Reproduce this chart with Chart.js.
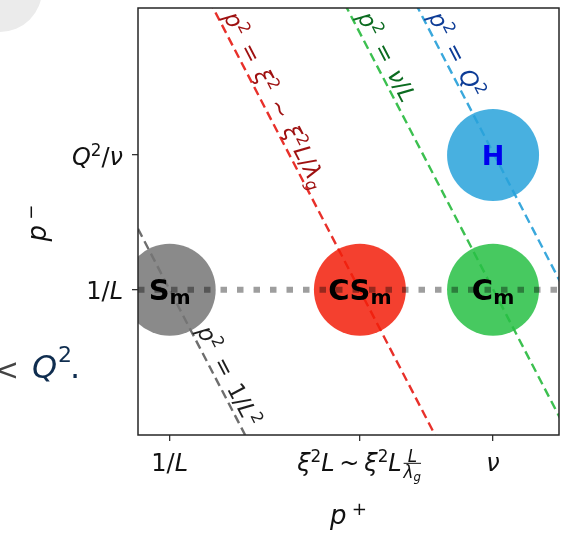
<!DOCTYPE html>
<html>
<head>
<meta charset="utf-8">
<script src="https://cdn.jsdelivr.net/npm/chart.js@4"></script>
<style>
  html, body { margin: 0; padding: 0; background: #fff; }
  canvas { display: block; }
</style>
</head>
<body>
<canvas id="myChart" width="567" height="533"></canvas>
<script>
'use strict';

// log p+ / log p- positions
const xMax = 13.28;
const yMax = 7.0;
const xTickVals = [1.0, 7.0, 11.2];
const xTickLabels = ['1/L', 'ξ^2L ~ ξ^2L\\frac{L}{λ_g}', 'ν'];
const yTickVals = [2.38, 4.59];
const yTickLabels = ['1/L', 'Q^2/ν'];

const pointLabels = ['S_m', 'CS_m', 'C_m', 'H'];
const pointX = [1.0, 7.0, 11.2, 11.2];
const pointY = [2.38, 2.38, 2.38, 4.59];

// lines p^2 = const  ->  log p+ + log p- = const
const lineSums = [3.38, 9.37, 13.59, 15.83];
const lineLabels = ['p^2 = 1/L^2', 'p^2 = ξ^2 ~ ξ^2L/λ_g', 'p^2 = ν/L', 'p^2 = Q^2'];

const pointColors = ['rgba(118,118,118,0.85)', 'rgba(242,30,10,0.85)', 'rgba(39,192,68,0.85)', 'rgba(40,162,219,0.85)'];
const pointTextColors = ['#000', '#000', '#000', '#0000ee'];
const lineColors = ['#6e6e6e', '#e8302a', '#3cc050', '#3aa8dc'];
const lineTextColors = ['#1e1e1e', '#9e1010', '#0b6b20', '#0d3c96'];
const lineLabelStart = [333, 19, 19, 19];

const F = '"DejaVu Sans", sans-serif';

const parseMath = function(str, bold) {
  const segs = [];
  let i = 0;
  while (i < str.length) {
    if (str.startsWith('\\frac{', i)) {
      const a = str.indexOf('}', i);
      const b = str.indexOf('}', a + 2);
      segs.push({ frac: [parseMath(str.slice(i + 6, a), bold), parseMath(str.slice(a + 2, b), bold)] });
      i = b + 1;
      continue;
    }
    let s = null;
    let ch = str[i];
    if (ch === '^' || ch === '_') {
      s = ch === '^' ? 'sup' : 'sub';
      i++;
      ch = str[i];
    }
    segs.push({ t: ch, s: s, i: !bold && /[A-Za-zα-ωΑ-Ω]/.test(ch), b: !!bold, sp: ch === ' ' });
    i++;
  }
  return segs;
};

const segFont = function(seg, size) {
  const sz = seg.s ? size * 0.7 : size;
  return `${seg.i ? 'italic ' : ''}${seg.b ? 'bold ' : ''}${sz}px ${F}`;
};

let spaceEm = 0.45;

const segWidth = function(ctx, seg, size) {
  if (seg.sp) return size * spaceEm;
  ctx.font = segFont(seg, size);
  return ctx.measureText(seg.t).width;
};

const FRAC = 0.7;

const measureRich = function(ctx, segs, size) {
  let w = 0;
  for (const seg of segs) {
    if (seg.frac) {
      const a = measureRich(ctx, seg.frac[0], size * FRAC);
      const b = measureRich(ctx, seg.frac[1], size * FRAC);
      w += Math.max(a, b) + size * 0.15;
    } else {
      w += segWidth(ctx, seg, size);
    }
  }
  return w;
};

const drawRich = function(ctx, segs, x, y, size, align, subDrop) {
  const w = measureRich(ctx, segs, size);
  let cx = align === 'center' ? x - w / 2 : align === 'right' ? x - w : x;
  ctx.textAlign = 'left';
  ctx.textBaseline = 'alphabetic';
  for (const seg of segs) {
    if (seg.frac) {
      const fs = size * FRAC;
      const fw = Math.max(measureRich(ctx, seg.frac[0], fs), measureRich(ctx, seg.frac[1], fs));
      const x0 = cx + size * 0.08;
      const bar = y - size * 0.32;
      drawRich(ctx, seg.frac[0], x0 + fw / 2, bar - size * 0.07, fs, 'center');
      drawRich(ctx, seg.frac[1], x0 + fw / 2, bar + size * 0.08 + fs * 0.75, fs, 'center');
      ctx.fillRect(x0, bar - 0.5, fw, 1);
      cx += fw + size * 0.15;
    } else {
      const sw = segWidth(ctx, seg, size);
      if (!seg.sp) {
        ctx.font = segFont(seg, size);
        const dy = seg.s === 'sup' ? -size * 0.36 : seg.s === 'sub' ? size * (subDrop || 0.2) : 0;
        ctx.fillText(seg.t, cx, y + dy);
      }
      cx += sw;
    }
  }
};

const annotatePlugin = {
  id: 'annotate',
  beforeDraw: function(chart) {
    const ctx = chart.ctx;
    ctx.save();
    // stray bits of the surrounding page
    ctx.fillStyle = '#ebebeb';
    ctx.beginPath();
    ctx.arc(0, -10, 42, 0, Math.PI * 2);
    ctx.fill();
    ctx.fillStyle = '#444';
    ctx.font = `30px ${F}`;
    ctx.textAlign = 'left';
    ctx.fillText('<', -6, 380);
    ctx.fillStyle = '#0f2d4f';
    ctx.font = `italic 32px ${F}`;
    ctx.fillText('Q', 32, 378);
    ctx.font = `22px ${F}`;
    ctx.fillText('2', 58, 362);
    ctx.font = `32px ${F}`;
    ctx.fillText('.', 70, 378);
    ctx.restore();
  },
  afterDatasetsDraw: function(chart) {
    const ctx = chart.ctx;
    const xs = chart.scales.x;
    const ys = chart.scales.y;
    const area = chart.chartArea;
    ctx.save();

    // labels along the p^2 lines
    spaceEm = 0.45;
    lineSums.forEach(function(c, k) {
      const x1 = xs.getPixelForValue(0), y1 = ys.getPixelForValue(c);
      const x2 = xs.getPixelForValue(c), y2 = ys.getPixelForValue(0);
      const len = Math.hypot(x2 - x1, y2 - y1);
      const dx = (x2 - x1) / len, dy = (y2 - y1) / len;
      const py = lineLabelStart[k];
      const px = x1 + (py - y1) * dx / dy;
      const off = 5;
      ctx.save();
      ctx.translate(px + dy * off, py - dx * off);
      ctx.rotate(Math.atan2(dy, dx));
      ctx.fillStyle = lineTextColors[k];
      drawRich(ctx, parseMath(lineLabels[k]), 0, 0, 23, 'left');
      ctx.restore();
    });

    // frame
    ctx.strokeStyle = '#262626';
    ctx.lineWidth = 1.5;
    ctx.strokeRect(area.left, area.top, area.right - area.left, area.bottom - area.top);
    ctx.restore();
  },
  afterDraw: function(chart) {
    const ctx = chart.ctx;
    const xs = chart.scales.x;
    const ys = chart.scales.y;
    const area = chart.chartArea;
    ctx.save();

    // bubble names
    pointLabels.forEach(function(lbl, k) {
      const cx = xs.getPixelForValue(pointX[k]);
      const cy = ys.getPixelForValue(pointY[k]);
      ctx.fillStyle = pointTextColors[k];
      const size = k === 3 ? 27 : 29;
      drawRich(ctx, parseMath(lbl, true), cx, cy + size * 0.36, size, 'center', 0.14);
    });

    // tick labels
    spaceEm = 0.2;
    ctx.fillStyle = '#111';
    xTickVals.forEach(function(v, k) {
      drawRich(ctx, parseMath(xTickLabels[k]), xs.getPixelForValue(v), area.bottom + 36, 24, 'center');
    });
    yTickVals.forEach(function(v, k) {
      drawRich(ctx, parseMath(yTickLabels[k]), area.left - 15, ys.getPixelForValue(v) + 9.5, 24, 'right');
    });

    // axis titles
    drawRich(ctx, parseMath('p\u2009^+'), (area.left + area.right) / 2, 524, 26, 'center');
    ctx.save();
    ctx.translate(46, 223);
    ctx.rotate(-Math.PI / 2);
    drawRich(ctx, parseMath('p\u2009^\u2212'), 0, 0, 26, 'center');
    ctx.restore();
    ctx.restore();
  }
};

const buildDatasets = function() {
  const sets = [];
  lineSums.forEach(function(c, k) {
    sets.push({
      type: 'line',
      data: [{ x: 0, y: c }, { x: c, y: 0 }],
      borderColor: lineColors[k],
      borderWidth: 2.4,
      borderDash: [9, 5],
      pointRadius: 0,
      clip: 0,
      order: 3
    });
  });
  sets.push({
    type: 'bubble',
    data: pointX.map(function(x, k) { return { x: x, y: pointY[k] }; }),
    backgroundColor: pointColors,
    borderWidth: 0,
    radius: 46,
    clip: 0,
    order: 2
  });
  sets.push({
    type: 'line',
    data: [{ x: 0, y: yTickVals[0] }, { x: xMax, y: yTickVals[0] }],
    borderColor: 'rgba(0,0,0,0.38)',
    borderWidth: 6,
    borderDash: [6.5, 10],
    borderCapStyle: 'butt',
    pointRadius: 0,
    clip: 0,
    order: 1
  });
  return sets;
};

const displayChart = function() {
  const ctx = document.getElementById('myChart');
  const gridOpts = { drawOnChartArea: false, drawTicks: true, tickLength: 6, color: '#333', lineWidth: 1.3 };
  new Chart(ctx, {
    type: 'bubble',
    data: { datasets: buildDatasets() },
    options: {
      responsive: false,
      animation: false,
      events: [],
      devicePixelRatio: 1,
      layout: { autoPadding: false, padding: { top: 8, right: 8, left: 0, bottom: 0 } },
      plugins: { legend: { display: false }, tooltip: { enabled: false } },
      scales: {
        x: {
          type: 'linear',
          min: 0,
          max: xMax,
          ticks: { display: false },
          grid: gridOpts,
          border: { display: false },
          afterBuildTicks: function(s) { s.ticks = xTickVals.map(function(v) { return { value: v }; }); },
          afterFit: function(s) { s.height = 98; }
        },
        y: {
          type: 'linear',
          min: 0,
          max: yMax,
          ticks: { display: false },
          grid: gridOpts,
          border: { display: false },
          afterBuildTicks: function(s) { s.ticks = yTickVals.map(function(v) { return { value: v }; }); },
          afterFit: function(s) { s.width = 138; }
        }
      }
    },
    plugins: [annotatePlugin]
  });
};

document.addEventListener('DOMContentLoaded', function() {
  displayChart();
});
</script>
</body>
</html>
